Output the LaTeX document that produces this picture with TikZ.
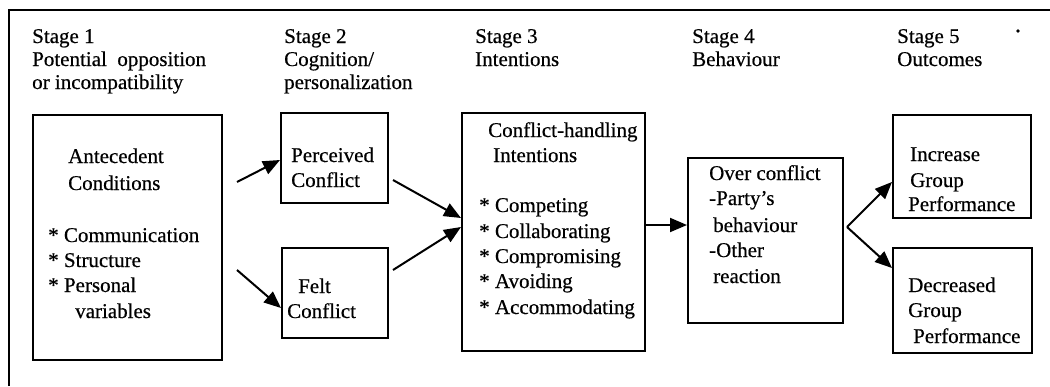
\documentclass[tikz,border=0pt]{standalone}
\usepackage{fontspec}
\setmainfont[FakeBold=0.5]{Liberation Serif}
\usetikzlibrary{arrows.meta,fit}
\begin{document}
\begin{tikzpicture}[x=1pt,y=-1pt,
  txt/.style={anchor=base west,inner sep=0pt,font=\fontsize{21}{25}\selectfont},
  box/.style={draw,line width=2pt,inner sep=0pt},
  flow/.style={line width=2pt,-{Triangle[length=17pt,width=14pt]}}]
\useasboundingbox (0,0) rectangle (1050,386);
% partial outer frame
\coordinate (fl) at (9,386);
\coordinate (fc) at (9,10);
\coordinate (fr) at (1050,10);
\draw[line width=1.6pt] (fl) -- (fc) -- (fr);
\fill (1018,31) circle (1.8pt);

% stage headings
\node[txt] (h1a) at (32,43) {Stage 1};
\node[txt] (h1b) at (32,66) {Potential\ \ opposition};
\node[txt] (h1c) at (32,89) {or incompatibility};
\node[txt] (h2a) at (284,43) {Stage 2};
\node[txt] (h2b) at (284,66) {Cognition/};
\node[txt] (h2c) at (284,89) {personalization};
\node[txt] (h3a) at (475,43) {Stage 3};
\node[txt] (h3b) at (475,66) {Intentions};
\node[txt] (h4a) at (692,43) {Stage 4};
\node[txt] (h4b) at (692,66) {Behaviour};
\node[txt] (h5a) at (897,43) {Stage 5};
\node[txt] (h5b) at (897,66) {Outcomes};

% boxes
\node[box,fit={(33,115) (222,360)}] (b1) {};
\node[box,fit={(281,113) (388,203)}] (b2) {};
\node[box,fit={(282,248) (388,338)}] (b3) {};
\node[box,fit={(462,113) (645,351)}] (b4) {};
\node[box,fit={(688,158) (843,323)}] (b5) {};
\node[box,fit={(893,115) (1031,218)}] (b6) {};
\node[box,fit={(893,248) (1032,353)}] (b7) {};

% box texts
\node[txt] (t1a) at (68,163) {Antecedent};
\node[txt] (t1b) at (68,190) {Conditions};
\node[txt] (t1c) at (48,242) {* Communication};
\node[txt] (t1d) at (48,267) {* Structure};
\node[txt] (t1e) at (48,292) {* Personal};
\node[txt] (t1f) at (75,318) {variables};

\node[txt] (t2a) at (291,162) {Perceived};
\node[txt] (t2b) at (291,187) {Conflict};

\node[txt] (t3a) at (298,293) {Felt};
\node[txt] (t3b) at (287,318) {Conflict};

\node[txt] (t4a) at (488,137) {Conflict-handling};
\node[txt] (t4b) at (493,162) {Intentions};
\node[txt] (t4c) at (479,212) {* Competing};
\node[txt] (t4d) at (479,238) {* Collaborating};
\node[txt] (t4e) at (479,263) {* Compromising};
\node[txt] (t4f) at (479,288) {* Avoiding};
\node[txt] (t4g) at (479,314) {* Accommodating};

\node[txt] (t5a) at (709,180) {Over conflict};
\node[txt] (t5b) at (709,205) {-Party’s};
\node[txt] (t5c) at (713,232) {behaviour};
\node[txt] (t5d) at (709,257) {-Other};
\node[txt] (t5e) at (713,283) {reaction};

\node[txt] (t6a) at (910,161) {Increase};
\node[txt] (t6b) at (910,187) {Group};
\node[txt] (t6c) at (908,211) {Performance};

\node[txt] (t7a) at (908,292) {Decreased};
\node[txt] (t7b) at (908,317) {Group};
\node[txt] (t7c) at (913,343) {Performance};

% connectors
\coordinate (s1) at (237,182);
\coordinate (s2) at (237,270);
\coordinate (s3) at (393,180);
\coordinate (s4) at (393,270);
\coordinate (s6) at (847,227);
\draw[flow] (s1) -- ([yshift=-2pt]b2.west);
\draw[flow] (s2) -- ([yshift=-15pt]b3.west);
\draw[flow] (s3) -- ([yshift=14pt]b4.west);
\draw[flow] (s4) -- ([yshift=5pt]b4.west);
\draw[flow] ([yshift=7pt]b4.east) -- ([yshift=7pt]b4.east -| b5.west);
\draw[flow] (s6) -- ([yshift=-15.5pt]b6.west);
\draw[flow] (s6) -- ([yshift=32.5pt]b7.west);
\end{tikzpicture}
\end{document}
